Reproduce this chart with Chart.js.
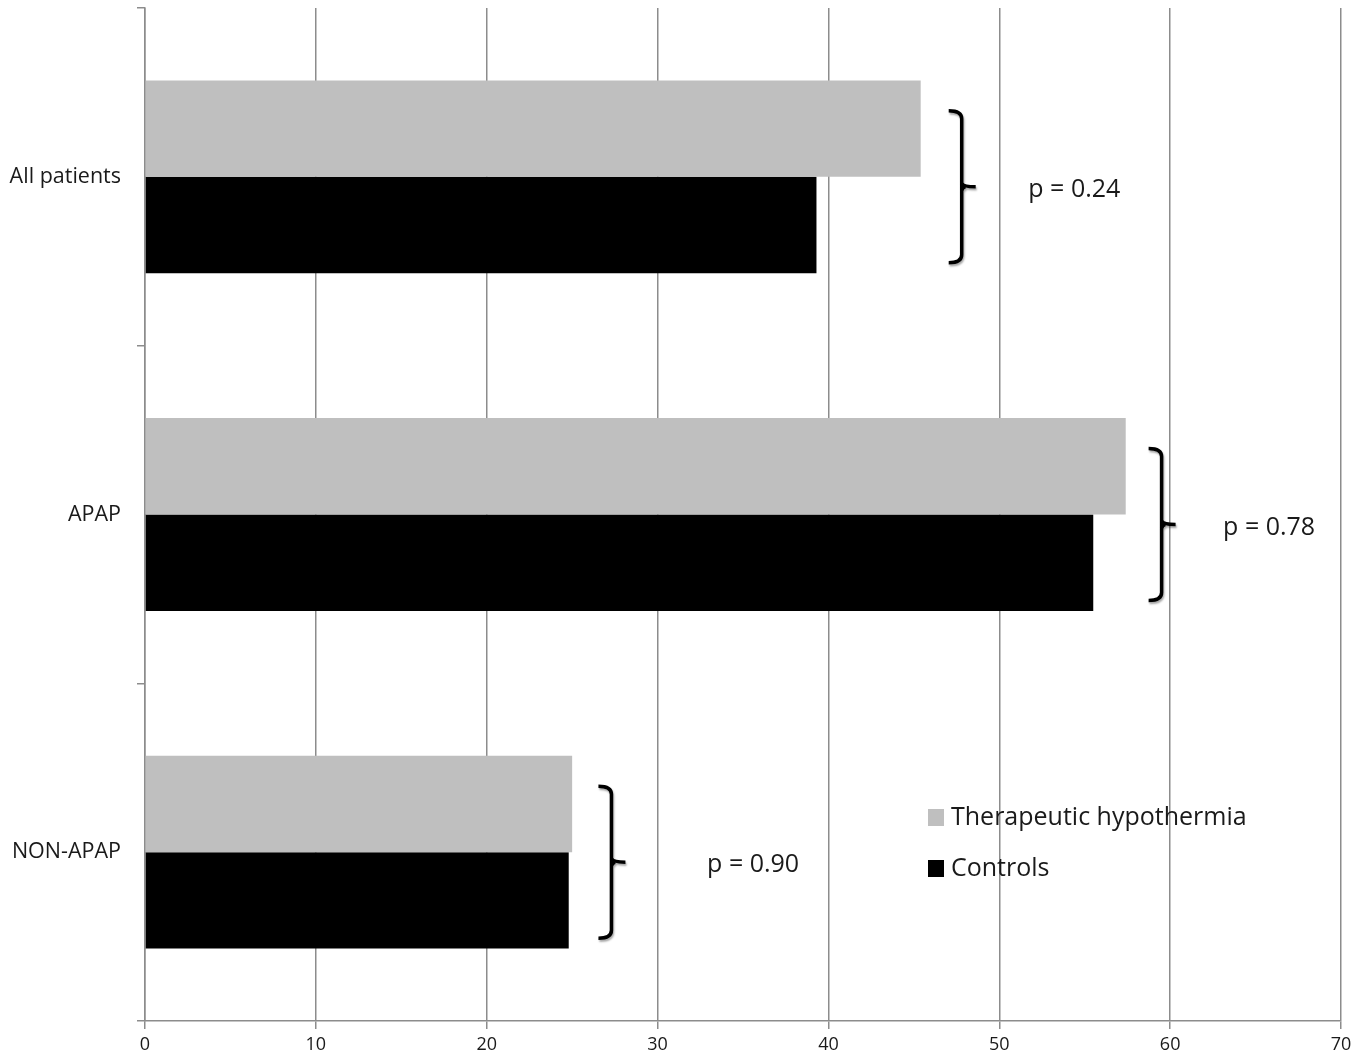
<!DOCTYPE html>
<html>
<head>
<meta charset="utf-8">
<script src="https://cdn.jsdelivr.net/npm/chart.js@4"></script>
<style>
  body { margin: 0; background: #fff; }
  #wrap { width: 1367px; height: 1061px; }
</style>
</head>
<body>
<div id="wrap"><canvas id="chart" width="1367" height="1061"></canvas></div>
<script>
var categories = ["All patients", "APAP", "NON-APAP"];
var hypothermia = [45.4, 57.4, 25.0];
var controls = [39.3, 55.5, 24.8];
var pValues = ["p = 0.24", "p = 0.78", "p = 0.90"];
var xTicks = [0, 10, 20, 30, 40, 50, 60, 70];

// bracket x and label x, in axis units
var bracketX = [47.8, 59.5, 27.3];
var labelX = [51.7, 63.1, 32.9];

var fontFam = "'Open Sans', sans-serif";

var annotate = {
  id: "annotate",
  afterDatasetsDraw: function (chart) {
    var ctx = chart.ctx;
    var xs = chart.scales.x, ys = chart.scales.y;
    ctx.save();
    categories.forEach(function (c, i) {
      var cy = ys.getPixelForValue(i) + 10;
      var bx = xs.getPixelForValue(bracketX[i]);
      var h = 76;
      ctx.shadowColor = "rgba(0,0,0,0.35)";
      ctx.shadowOffsetX = 1;
      ctx.shadowOffsetY = 2;
      ctx.shadowBlur = 2;
      ctx.strokeStyle = "#000";
      ctx.lineWidth = 3.5;
      ctx.beginPath();
      ctx.moveTo(bx - 13, cy - h);
      ctx.quadraticCurveTo(bx, cy - h, bx, cy - h + 8);
      ctx.lineTo(bx, cy + h - 8);
      ctx.quadraticCurveTo(bx, cy + h, bx - 13, cy + h);
      ctx.moveTo(bx, cy - 4);
      ctx.quadraticCurveTo(bx + 1, cy, bx + 14, cy);
      ctx.moveTo(bx, cy + 4);
      ctx.quadraticCurveTo(bx + 1, cy, bx + 4, cy);
      ctx.stroke();
      ctx.shadowColor = "transparent";
      ctx.fillStyle = "#1a1a1a";
      ctx.font = "25px " + fontFam;
      ctx.textBaseline = "middle";
      ctx.textAlign = "left";
      ctx.fillText(pValues[i], xs.getPixelForValue(labelX[i]), cy + 3);
    });

    // legend inside the plot
    var items = chart.data.datasets;
    var lx = 928, ly = 817;
    items.forEach(function (ds, k) {
      var y = ly + k * 51;
      ctx.fillStyle = ds.backgroundColor;
      ctx.fillRect(lx, y - 8, 16, 17);
      ctx.fillStyle = "#1a1a1a";
      ctx.font = "25px " + fontFam;
      ctx.textBaseline = "middle";
      ctx.fillText(ds.label, lx + 23, y + 1);
    });
    ctx.restore();
  }
};

new Chart("chart", {
  type: "bar",
  data: {
    labels: categories,
    datasets: [
      { label: "Therapeutic hypothermia", data: hypothermia, backgroundColor: "#bfbfbf" },
      { label: "Controls", data: controls, backgroundColor: "#000000" }
    ]
  },
  options: {
    indexAxis: "y",
    responsive: false,
    animation: false,
    layout: { padding: { top: 8, right: 26, left: 0, bottom: 0 } },
    datasets: { bar: { categoryPercentage: 0.571, barPercentage: 1.0 } },
    plugins: { legend: { display: false }, tooltip: { enabled: false } },
    scales: {
      x: {
        min: 0,
        max: 70,
        afterBuildTicks: function (s) { s.ticks = xTicks.map(function (v) { return { value: v }; }); },
        afterFit: function (s) { s.height = 40; },
        grid: { color: "#8c8c8c", lineWidth: 1.5, tickLength: 8 },
        border: { color: "#8c8c8c", width: 1.5 },
        ticks: { color: "#1a1a1a", font: { family: fontFam, size: 18 }, padding: 5, maxRotation: 0 }
      },
      y: {
        afterFit: function (s) { s.width = 145; s.paddingTop = 0; s.paddingBottom = 0; },
        grid: { offset: true, drawOnChartArea: false, color: "#8c8c8c", lineWidth: 1.5, tickLength: 8 },
        border: { color: "#8c8c8c", width: 1.5 },
        ticks: { color: "#1a1a1a", font: { family: fontFam, size: 21.5 }, padding: 16 }
      }
    }
  },
  plugins: [annotate]
});
</script>
</body>
</html>
